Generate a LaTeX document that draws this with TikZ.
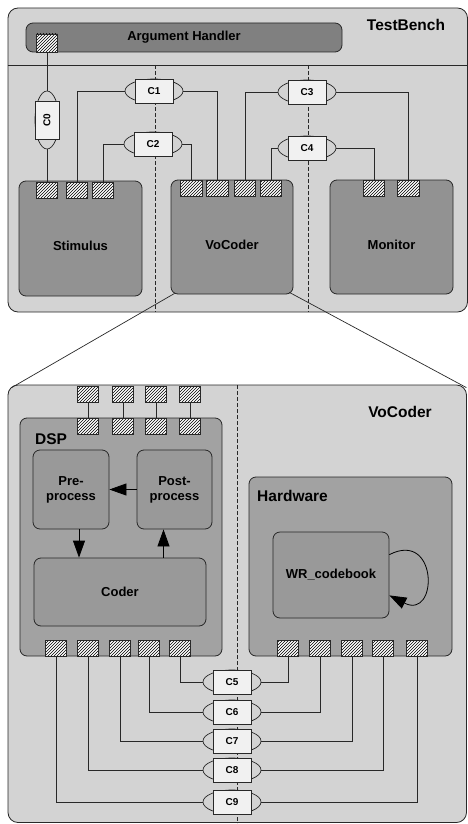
\documentclass[tikz,border=0pt]{standalone}
\usepackage{fontspec}
\setmainfont{Liberation Sans}
\usepackage{tikz}
\usetikzlibrary{shapes.geometric,patterns,arrows.meta}

\definecolor{bench}{RGB}{211,211,211}
\definecolor{handler}{RGB}{128,128,128}
\definecolor{unitgray}{RGB}{146,146,146}
\definecolor{subgray}{RGB}{162,162,162}
\definecolor{procgray}{RGB}{153,153,153}
\definecolor{chanwhite}{RGB}{241,241,241}
\definecolor{edge}{RGB}{40,40,40}

\newcommand{\TitleFont}{\bfseries\fontsize{15.5}{18}\selectfont}
\newcommand{\LabelFont}{\bfseries\fontsize{13}{15}\selectfont}
\newcommand{\ChanFont}{\bfseries\fontsize{10}{12}\selectfont}
%% channel: rotation, name, position, text
\newcommand{\Chan}[4][0]{%
  \node[chancap, rotate=#1] (#2) at #3 {};
  \node[chanbox, rotate=#1] (#2box) at #3 {#4};
}

\begin{document}
\begin{tikzpicture}[x=1pt, y=-1pt,
  frame/.style={draw=edge, line width=0.8pt, rounded corners=10pt, fill=bench, inner sep=0pt},
  unit/.style={draw=edge, line width=0.8pt, rounded corners=7pt, fill=unitgray, inner sep=0pt},
  sub/.style={unit, fill=subgray},
  proc/.style={unit, fill=procgray, align=center, font=\LabelFont},
  port/.style={draw=edge, line width=0.6pt, preaction={fill=white}, pattern=north east lines,
    minimum width=21.5pt, minimum height=16pt, inner sep=0pt},
  chancap/.style={ellipse, draw=edge, line width=0.7pt, fill=bench,
    minimum width=58pt, minimum height=24pt, inner sep=0pt},
  chanbox/.style={rectangle, draw=edge, line width=0.7pt, fill=chanwhite,
    minimum width=38pt, minimum height=24pt, inner sep=0pt, font=\ChanFont},
  wire/.style={draw=edge, line width=0.7pt},
  flow/.style={draw=black, line width=0.8pt, -{Triangle[length=17pt, width=12pt]}},
  part/.style={draw=edge, line width=0.6pt, dash pattern=on 4pt off 2pt},
  title/.style={inner sep=0pt, font=\TitleFont},
  lbl/.style={inner sep=0pt, font=\LabelFont}]

  \useasboundingbox (0,0) rectangle (468,824);

  %% test bench
  \node[frame, minimum width=459.5, minimum height=304] (tb) at (237.75,160) {};
  \draw[wire] (tb.west |- 0,65) -- (tb.east |- 0,65);
  \draw[part] (155,65) -- (155,312);
  \draw[part] (308,65) -- (308,312);
  \node[title] (tbt) at (406,25) {TestBench};

  \node[unit, fill=handler, minimum width=316, minimum height=29, font=\LabelFont] (arg) at (184,37.5) {Argument Handler};
  \node[port, minimum height=18] (a0) at (47,43) {};

  \node[unit, minimum width=123, minimum height=115] (stim) at (80.5,238.5) {};
  \node[lbl] (stimt) at ([yshift=-7pt]stim.center) {Stimulus};
  \node[unit, minimum width=122, minimum height=114] (voc) at (232,237) {};
  \node[lbl] (voct) at ([yshift=-8pt]voc.center) {VoCoder};
  \node[unit, minimum width=123, minimum height=114] (mon) at (391.5,237) {};
  \node[lbl] (mont) at ([yshift=-8pt]mon.center) {Monitor};

  \node[port] (s1) at (47,190) {};
  \node[port] (s2) at (77,190) {};
  \node[port] (s3) at (103,190) {};
  \node[port] (v1) at (191.5,188.5) {};
  \node[port] (v2) at (217.5,188.5) {};
  \node[port] (v3) at (245,188.5) {};
  \node[port] (v4) at (271,188.5) {};
  \node[port] (m1) at (374,188.5) {};
  \node[port] (m2) at (408.5,188.5) {};

  \Chan[90]{c0}{(47,120)}{C0}
  \Chan{c1}{(154,91)}{C1}
  \Chan{c2}{(153,144)}{C2}
  \Chan{c3}{(307,92)}{C3}
  \Chan{c4}{(307,148)}{C4}

  \draw[wire] (a0.south) -- (c0.east);
  \draw[wire] (c0.west) -- (s1.north);
  \draw[wire] (s2.north) |- (c1.west);
  \draw[wire] (c1.east) -| (v2.north);
  \draw[wire] (s3.north) |- (c2.west);
  \draw[wire] (c2.east) -| (v1.north);
  \draw[wire] (c3.west) -| (v3.north);
  \draw[wire] (c3.east) -| (m2.north);
  \draw[wire] (c4.west) -| (v4.north);
  \draw[wire] (c4.east) -| (m1.north);

  %% vocoder, opened up
  \node[frame, minimum width=458.5, minimum height=437.5] (vbig) at (237.25,603.75) {};
  \node[title] (vbigt) at (400,412) {VoCoder};
  \draw[part] (237,385) -- (237,823);
  \draw[wire] ([xshift=4pt,yshift=1pt]voc.south west) -- ([xshift=4pt,yshift=-3pt]vbig.north west);
  \draw[wire] ([xshift=-4pt,yshift=2pt]voc.south east) -- ([xshift=-0.5pt,yshift=-3pt]vbig.north east);

  \node[sub, minimum width=202, minimum height=238] (dsp) at (121,537) {};
  \node[title, anchor=west] (dspt) at (35,439) {DSP};
  \node[proc, minimum width=76, minimum height=79] (pre) at (71,489.5) {Pre-\\process};
  \node[proc, minimum width=75, minimum height=79] (post) at (174.5,489.5) {Post-\\process};
  \node[proc, minimum width=172, minimum height=68] (coder) at (120,592) {Coder};

  \node[sub, minimum width=203, minimum height=179] (hw) at (350.5,566.5) {};
  \node[title, anchor=west] (hwt) at (257,496) {Hardware};
  \node[proc, minimum width=116, minimum height=86] (wr) at (331,575) {WR\_codebook};

  \coordinate (pin) at ([xshift=8pt]pre.south);
  \coordinate (pout) at ([xshift=-11pt]post.south);
  \draw[flow] (post.west) -- (pre.east);
  \draw[flow] (pin) -- (pin |- coder.north);
  \draw[flow] (pout |- coder.north) -- (pout);
  \draw[flow] ([yshift=-23pt]wr.north east) .. controls +(49,-25) and +(49,25) .. ([yshift=23pt]wr.south east);

  \node[port] (o1) at (88,394) {};
  \node[port] (o2) at (123,394) {};
  \node[port] (o3) at (156,394) {};
  \node[port] (o4) at (190,394) {};
  \node[port] (d1) at (88,426.5) {};
  \node[port] (d2) at (123,426.5) {};
  \node[port] (d3) at (156,426.5) {};
  \node[port] (d4) at (190,426.5) {};
  \draw[wire] (o1) -- (d1);
  \draw[wire] (o2) -- (d2);
  \draw[wire] (o3) -- (d3);
  \draw[wire] (o4) -- (d4);

  \node[port] (b1) at (56,648) {};
  \node[port] (b2) at (88,648) {};
  \node[port] (b3) at (120,648) {};
  \node[port] (b4) at (149,648) {};
  \node[port] (b5) at (180,648) {};
  \node[port] (h1) at (288,648) {};
  \node[port] (h2) at (320,648) {};
  \node[port] (h3) at (352,648) {};
  \node[port] (h4) at (383,648) {};
  \node[port] (h5) at (417,648) {};

  \Chan{c5}{(232,682)}{C5}
  \Chan{c6}{(232,712)}{C6}
  \Chan{c7}{(232,741)}{C7}
  \Chan{c8}{(232,770)}{C8}
  \Chan{c9}{(232,802)}{C9}

  \draw[wire] (b5.south) |- (c5.west);  \draw[wire] (c5.east) -| (h1.south);
  \draw[wire] (b4.south) |- (c6.west);  \draw[wire] (c6.east) -| (h2.south);
  \draw[wire] (b3.south) |- (c7.west);  \draw[wire] (c7.east) -| (h3.south);
  \draw[wire] (b2.south) |- (c8.west);  \draw[wire] (c8.east) -| (h4.south);
  \draw[wire] (b1.south) |- (c9.west);  \draw[wire] (c9.east) -| (h5.south);

\end{tikzpicture}
\end{document}
